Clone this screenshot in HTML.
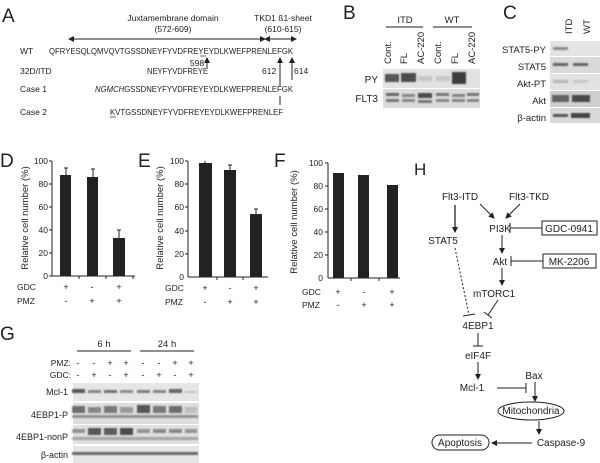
<!DOCTYPE html>
<html><head><meta charset="utf-8"><style>
html,body{margin:0;padding:0;background:#fff;}
svg{display:block;font-family:"Liberation Sans",sans-serif;}
</style></head><body>
<svg width="600" height="463" viewBox="0 0 600 463" xmlns="http://www.w3.org/2000/svg">
<defs>
<marker id="ah" markerWidth="6" markerHeight="6" refX="5" refY="3" orient="auto" markerUnits="userSpaceOnUse"><path d="M0,0 L6,3 L0,6 z" fill="#222"/></marker>
<marker id="ahs" markerWidth="6" markerHeight="6" refX="1" refY="3" orient="auto-start-reverse" markerUnits="userSpaceOnUse"><path d="M0,0 L6,3 L0,6 z" fill="#222"/></marker>
<filter id="bl"><feGaussianBlur stdDeviation="0.9"/></filter>
</defs>
<g fill="#222">
<!-- Panel A -->
<text x="2" y="22" font-size="19">A</text>
<text x="173" y="21" font-size="8.5" text-anchor="middle">Juxtamembrane domain</text>
<text x="173" y="32" font-size="8.5" text-anchor="middle">(572-609)</text>
<text x="283" y="21" font-size="8.5" text-anchor="middle">TKD1 ß1-sheet</text>
<text x="283" y="32" font-size="8.5" text-anchor="middle">(610-615)</text>
<line x1="73" y1="39" x2="265" y2="39" stroke="#222" stroke-width="1" marker-start="url(#ahs)" marker-end="url(#ah)"/>
<line x1="269" y1="39" x2="296" y2="39" stroke="#222" stroke-width="1" marker-start="url(#ahs)" marker-end="url(#ah)"/>
<text x="20" y="54" font-size="8.5">WT</text>
<text x="49" y="54" font-size="8.5" textLength="244" lengthAdjust="spacingAndGlyphs">QFRYESQLQMVQVTGSSDNEYFYVDFREYEYDLKWEFPRENLEFGK</text>
<line x1="200" y1="56" x2="206" y2="56" stroke="#222" stroke-width="0.7"/>
<text x="197" y="66" font-size="8.5" text-anchor="middle">598</text>
<line x1="207" y1="68" x2="207" y2="58" stroke="#222" stroke-width="1" marker-end="url(#ah)"/>
<text x="20" y="74" font-size="8.5">32D/ITD</text>
<text x="147" y="74" font-size="8.5" textLength="61" lengthAdjust="spacingAndGlyphs">NEYFYVDFREYE</text>
<text x="262" y="74" font-size="8.5">612</text>
<text x="294" y="74" font-size="8.5">614</text>
<line x1="280" y1="86" x2="280" y2="58" stroke="#222" stroke-width="1" marker-end="url(#ah)"/>
<line x1="292" y1="80" x2="292" y2="58" stroke="#222" stroke-width="1" marker-end="url(#ah)"/>
<text x="20" y="92" font-size="8.5">Case 1</text>
<text x="95" y="92" font-size="8.5" textLength="198" lengthAdjust="spacingAndGlyphs"><tspan font-style="italic">NGMCH</tspan>GSSDNEYFYVDFREYEYDLKWEFPRENLEFGK</text>
<line x1="280" y1="96" x2="280" y2="105" stroke="#222" stroke-width="1"/>
<text x="20" y="115" font-size="8.5">Case 2</text>
<text x="110" y="115" font-size="8.5" textLength="173" lengthAdjust="spacingAndGlyphs">KVTGSSDNEYFYVDFREYEYDLKWEFPRENLEF</text>
<line x1="110" y1="117" x2="116" y2="117" stroke="#222" stroke-width="0.7"/>

<!-- Panel B -->
<text x="343" y="19" font-size="19">B</text>
<text x="405" y="23" font-size="9.5" text-anchor="middle">ITD</text>
<line x1="386" y1="27" x2="423" y2="27" stroke="#222"/>
<text x="452" y="23" font-size="9.5" text-anchor="middle">WT</text>
<line x1="433" y1="27" x2="472" y2="27" stroke="#222"/>
<g font-size="9.5">
<text transform="translate(391,64) rotate(-90)">Cont.</text>
<text transform="translate(407,64) rotate(-90)">FL</text>
<text transform="translate(424,64) rotate(-90)">AC-220</text>
<text transform="translate(441,64) rotate(-90)">Cont.</text>
<text transform="translate(458,64) rotate(-90)">FL</text>
<text transform="translate(475,64) rotate(-90)">AC-220</text>
</g>
<text x="378" y="83" font-size="10" text-anchor="end">PY</text>
<text x="378" y="102" font-size="10" text-anchor="end">FLT3</text>
<rect x="383" y="69" width="97" height="19" fill="#e2e2e2"/>
<rect x="383" y="89" width="97" height="19" fill="#dcdcdc"/>
<g filter="url(#bl)" fill="#333">
<rect x="385" y="74" width="14" height="8" opacity="0.8"/><rect x="401" y="73" width="15" height="9" opacity="0.85"/>
<rect x="418" y="76" width="14" height="5" opacity="0.15"/><rect x="436" y="76" width="14" height="5" opacity="0.15"/>
<rect x="452" y="72" width="14" height="12" opacity="0.95"/>
<rect x="386" y="93" width="13" height="3" opacity="0.7"/><rect x="386" y="99" width="13" height="3" opacity="0.6"/>
<rect x="402" y="94" width="13" height="3" opacity="0.5"/><rect x="402" y="99" width="13" height="3" opacity="0.5"/>
<rect x="418" y="93" width="14" height="5" opacity="0.85"/><rect x="418" y="100" width="14" height="3" opacity="0.6"/>
<rect x="436" y="93" width="13" height="3" opacity="0.6"/><rect x="436" y="99" width="13" height="3" opacity="0.5"/>
<rect x="452" y="94" width="13" height="3" opacity="0.5"/><rect x="452" y="99" width="13" height="3" opacity="0.5"/>
<rect x="467" y="93" width="12" height="3" opacity="0.6"/><rect x="467" y="99" width="12" height="3" opacity="0.5"/>
</g>

<!-- Panel C -->
<text x="503" y="19" font-size="19">C</text>
<text transform="translate(572,34) rotate(-90)" font-size="9.5">ITD</text>
<text transform="translate(590,34) rotate(-90)" font-size="9.5">WT</text>
<g font-size="9.5" text-anchor="end">
<text x="546" y="53">STAT5-PY</text>
<text x="546" y="70">STAT5</text>
<text x="546" y="87">Akt-PT</text>
<text x="546" y="104">Akt</text>
<text x="546" y="121">β-actin</text>
</g>
<rect x="550" y="41" width="50" height="15" fill="#e4e4e4"/>
<rect x="550" y="57" width="50" height="16" fill="#dadada"/>
<rect x="550" y="74" width="50" height="16" fill="#e2e2e2"/>
<rect x="550" y="91" width="50" height="16" fill="#cfcfcf"/>
<rect x="550" y="108" width="50" height="15" fill="#dadada"/>
<g filter="url(#bl)" fill="#333">
<rect x="553" y="47" width="15" height="3" opacity="0.5"/>
<rect x="553" y="63" width="15" height="3" opacity="0.7"/><rect x="573" y="63" width="15" height="3" opacity="0.7"/>
<rect x="553" y="80" width="15" height="3" opacity="0.25"/><rect x="573" y="80" width="15" height="3" opacity="0.15"/>
<rect x="552" y="95" width="17" height="7" opacity="0.7"/><rect x="572" y="95" width="18" height="7" opacity="0.85"/>
<rect x="553" y="114" width="15" height="3" opacity="0.8"/><rect x="571" y="113" width="19" height="5" opacity="0.9"/>
</g>

<!-- Panel D -->
<text x="0" y="167" font-size="19">D</text>
<text transform="translate(28,218) rotate(-90)" font-size="9.5" text-anchor="middle">Relative cell number (%)</text>
<g font-size="8.5" text-anchor="end">
<text x="48" y="164">100</text><text x="48" y="187">80</text><text x="48" y="210">60</text><text x="48" y="233">40</text><text x="48" y="256">20</text><text x="48" y="279">0</text>
</g>
<line x1="52" y1="161" x2="52" y2="276" stroke="#222"/>
<line x1="52" y1="276" x2="135" y2="276" stroke="#222"/>
<g stroke="#222"><line x1="49" y1="161" x2="52" y2="161"/><line x1="49" y1="184" x2="52" y2="184"/><line x1="49" y1="207" x2="52" y2="207"/><line x1="49" y1="230" x2="52" y2="230"/><line x1="49" y1="253" x2="52" y2="253"/><line x1="49" y1="276" x2="52" y2="276"/>
<line x1="79" y1="276" x2="79" y2="279"/><line x1="106" y1="276" x2="106" y2="279"/><line x1="133" y1="276" x2="133" y2="279"/>
<line x1="66" y1="175" x2="66" y2="168"/><line x1="93" y1="177" x2="93" y2="169"/><line x1="119" y1="238" x2="119" y2="230"/>
<line x1="64" y1="168" x2="68" y2="168"/><line x1="91" y1="169" x2="95" y2="169"/><line x1="117" y1="230" x2="121" y2="230"/></g>
<rect x="60" y="175" width="11" height="101"/><rect x="87" y="177" width="11" height="99"/><rect x="113" y="238" width="12" height="38"/>
<g font-size="8.5"><text x="17" y="290">GDC</text><text x="17" y="304">PMZ</text></g>
<g font-size="9" text-anchor="middle"><text x="66" y="290">+</text><text x="92" y="290">-</text><text x="119" y="290">+</text>
<text x="66" y="304">-</text><text x="92" y="304">+</text><text x="119" y="304">+</text></g>

<!-- Panel E -->
<text x="138" y="167" font-size="19">E</text>
<text transform="translate(163,218) rotate(-90)" font-size="9.5" text-anchor="middle">Relative cell number (%)</text>
<g font-size="8.5" text-anchor="end">
<text x="184" y="164">100</text><text x="184" y="187">80</text><text x="184" y="210">60</text><text x="184" y="234">40</text><text x="184" y="257">20</text><text x="184" y="280">0</text>
</g>
<line x1="188" y1="161" x2="188" y2="277" stroke="#222"/>
<line x1="188" y1="277" x2="268" y2="277" stroke="#222"/>
<g stroke="#222"><line x1="185" y1="161" x2="188" y2="161"/><line x1="185" y1="184" x2="188" y2="184"/><line x1="185" y1="207" x2="188" y2="207"/><line x1="185" y1="231" x2="188" y2="231"/><line x1="185" y1="254" x2="188" y2="254"/>
<line x1="217" y1="277" x2="217" y2="280"/><line x1="243" y1="277" x2="243" y2="280"/>
<line x1="205" y1="163" x2="205" y2="161"/><line x1="230" y1="170" x2="230" y2="165"/><line x1="256" y1="214" x2="256" y2="209"/>
<line x1="228" y1="165" x2="232" y2="165"/><line x1="254" y1="209" x2="258" y2="209"/></g>
<rect x="199" y="163" width="13" height="114"/><rect x="224" y="170" width="12" height="107"/><rect x="250" y="214" width="12" height="63"/>
<g font-size="8.5"><text x="165" y="291">GDC</text><text x="165" y="305">PMZ</text></g>
<g font-size="9" text-anchor="middle"><text x="205" y="291">+</text><text x="230" y="291">-</text><text x="256" y="291">+</text>
<text x="205" y="305">-</text><text x="230" y="305">+</text><text x="256" y="305">+</text></g>

<!-- Panel F -->
<text x="274" y="167" font-size="19">F</text>
<text transform="translate(297,222) rotate(-90)" font-size="9.5" text-anchor="middle">Relative cell number (%)</text>
<g font-size="8.5" text-anchor="end">
<text x="323" y="166">100</text><text x="323" y="189">80</text><text x="323" y="212">60</text><text x="323" y="235">40</text><text x="323" y="258">20</text><text x="323" y="281">0</text>
</g>
<line x1="328" y1="163" x2="328" y2="278" stroke="#222"/>
<line x1="328" y1="278" x2="400" y2="278" stroke="#222"/>
<g stroke="#222"><line x1="325" y1="163" x2="328" y2="163"/><line x1="325" y1="186" x2="328" y2="186"/><line x1="325" y1="209" x2="328" y2="209"/><line x1="325" y1="232" x2="328" y2="232"/><line x1="325" y1="255" x2="328" y2="255"/>
<line x1="351" y1="278" x2="351" y2="281"/><line x1="379" y1="278" x2="379" y2="281"/></g>
<rect x="333" y="173" width="11" height="105"/><rect x="358" y="175" width="11" height="103"/><rect x="387" y="185" width="11" height="93"/>
<g font-size="8.5"><text x="302" y="295">GDC</text><text x="302" y="308">PMZ</text></g>
<g font-size="9" text-anchor="middle"><text x="338" y="295">+</text><text x="364" y="295">-</text><text x="392" y="295">+</text>
<text x="338" y="308">-</text><text x="364" y="308">+</text><text x="392" y="308">+</text></g>

<!-- Panel G -->
<text x="0" y="340" font-size="19">G</text>
<text x="104" y="347" font-size="9.5" text-anchor="middle">6 h</text>
<line x1="77" y1="351" x2="131" y2="351" stroke="#222"/>
<text x="167" y="347" font-size="9.5" text-anchor="middle">24 h</text>
<line x1="140" y1="351" x2="194" y2="351" stroke="#222"/>
<g font-size="8.5" text-anchor="end"><text x="71" y="366">PMZ:</text><text x="71" y="378">GDC:</text></g>
<g font-size="9" text-anchor="middle">
<text x="78" y="366">-</text><text x="94" y="366">-</text><text x="110" y="366">+</text><text x="126" y="366">+</text><text x="143" y="366">-</text><text x="159" y="366">-</text><text x="175" y="366">+</text><text x="191" y="366">+</text>
<text x="78" y="378">-</text><text x="94" y="378">+</text><text x="110" y="378">-</text><text x="126" y="378">+</text><text x="143" y="378">-</text><text x="159" y="378">+</text><text x="175" y="378">-</text><text x="191" y="378">+</text>
</g>
<g font-size="9" text-anchor="end">
<text x="68" y="395">Mcl-1</text><text x="68" y="418">4EBP1-P</text><text x="68" y="440">4EBP1-nonP</text><text x="68" y="458">β-actin</text>
</g>
<rect x="73" y="383" width="126" height="18" fill="#e6e6e6"/>
<rect x="73" y="403" width="126" height="21" fill="#dedede"/>
<rect x="73" y="425" width="126" height="19" fill="#e0e0e0"/>
<rect x="73" y="446" width="126" height="17" fill="#e6e6e6"/>
<g filter="url(#bl)" fill="#333">
<!-- Mcl-1 -->
<rect x="72" y="389" width="13" height="4" opacity="0.8"/><rect x="88" y="390" width="13" height="3" opacity="0.55"/><rect x="104" y="390" width="13" height="3" opacity="0.65"/><rect x="120" y="390" width="13" height="3" opacity="0.5"/>
<rect x="137" y="390" width="13" height="3" opacity="0.6"/><rect x="153" y="390" width="13" height="3" opacity="0.55"/><rect x="169" y="389" width="13" height="4" opacity="0.7"/><rect x="185" y="391" width="12" height="2" opacity="0.2"/>
<!-- 4EBP1-P -->
<rect x="72" y="406" width="13" height="7" opacity="0.65"/><rect x="88" y="407" width="13" height="6" opacity="0.5"/><rect x="104" y="406" width="13" height="7" opacity="0.6"/><rect x="120" y="407" width="13" height="6" opacity="0.4"/>
<rect x="137" y="405" width="13" height="8" opacity="0.8"/><rect x="153" y="406" width="13" height="7" opacity="0.6"/><rect x="169" y="406" width="13" height="7" opacity="0.65"/><rect x="185" y="407" width="12" height="6" opacity="0.2"/>
<rect x="72" y="415" width="126" height="3" opacity="0.45"/>
<!-- 4EBP1-nonP -->
<rect x="72" y="429" width="13" height="4" opacity="0.45"/><rect x="88" y="428" width="13" height="7" opacity="0.8"/><rect x="104" y="428" width="13" height="7" opacity="0.75"/><rect x="120" y="428" width="13" height="7" opacity="0.85"/>
<rect x="137" y="429" width="13" height="4" opacity="0.45"/><rect x="153" y="429" width="13" height="4" opacity="0.5"/><rect x="169" y="429" width="13" height="4" opacity="0.5"/><rect x="185" y="429" width="12" height="4" opacity="0.45"/>
<rect x="72" y="437" width="126" height="3" opacity="0.35"/>
<!-- actin -->
<rect x="72" y="452" width="126" height="3" opacity="0.7"/>
</g>

<!-- Panel H -->
<text x="414" y="175" font-size="17">H</text>
<g font-size="10" text-anchor="middle">
<text x="460" y="200">Flt3-ITD</text>
<text x="529" y="200">Flt3-TKD</text>
<text x="443" y="244">STAT5</text>
<text x="500" y="232">PI3K</text>
<text x="500" y="265">Akt</text>
<text x="494" y="297">mTORC1</text>
<text x="478" y="329">4EBP1</text>
<text x="478" y="359">eIF4F</text>
<text x="472" y="391">Mcl-1</text>
<text x="534" y="379">Bax</text>
<text x="531" y="414">Mitochondria</text>
<text x="460" y="446">Apoptosis</text>
<text x="561" y="446">Caspase-9</text>
<text x="569" y="232">GDC-0941</text>
<text x="569" y="265">MK-2206</text>
</g>
<rect x="542" y="221" width="55" height="14" fill="none" stroke="#222"/>
<rect x="543" y="254" width="53" height="14" fill="none" stroke="#222"/>
<ellipse cx="531" cy="411" rx="33" ry="9" fill="none" stroke="#222"/>
<rect x="432" y="435" width="57" height="15" rx="7.5" fill="none" stroke="#222"/>
<g stroke="#222" stroke-width="1" fill="none">
<line x1="455" y1="205" x2="455" y2="232" marker-end="url(#ah)" stroke-width="1.3"/>
<line x1="480" y1="204" x2="494" y2="218" marker-end="url(#ah)"/>
<line x1="520" y1="204" x2="506" y2="218" marker-end="url(#ah)"/>
<line x1="502" y1="235" x2="502" y2="253" marker-end="url(#ah)"/>
<line x1="502" y1="268" x2="502" y2="285" marker-end="url(#ah)"/>
<line x1="542" y1="228" x2="510" y2="228"/><line x1="510" y1="223" x2="510" y2="233"/>
<line x1="543" y1="261" x2="511" y2="261"/><line x1="511" y1="256" x2="511" y2="266"/>
<line x1="455" y1="248" x2="469" y2="315" stroke-dasharray="2,2"/><line x1="463" y1="316" x2="475" y2="314"/>
<line x1="498" y1="300" x2="488" y2="315"/><line x1="484" y1="312" x2="492" y2="318"/>
<line x1="478" y1="333" x2="478" y2="346"/><line x1="473" y1="346" x2="483" y2="346"/>
<line x1="478" y1="362" x2="478" y2="379" marker-end="url(#ah)"/>
<line x1="497" y1="388" x2="526" y2="388"/><line x1="526" y1="383" x2="526" y2="393"/>
<line x1="535" y1="382" x2="535" y2="401" marker-end="url(#ah)"/>
<line x1="539" y1="421" x2="539" y2="434" marker-end="url(#ah)"/>
<line x1="532" y1="443" x2="492" y2="443" marker-end="url(#ah)"/>
</g>
</g>
</svg>
</body></html>
